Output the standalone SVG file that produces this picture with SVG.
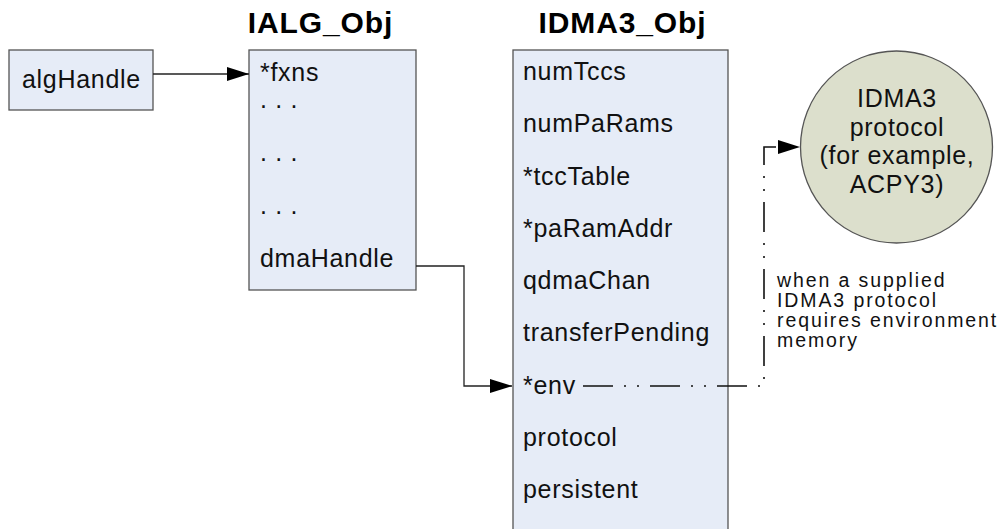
<svg xmlns="http://www.w3.org/2000/svg" width="1006" height="529" viewBox="0 0 1006 529">
<style>
.box{fill:#e6ecf7;stroke:#555;stroke-width:1.3}
.t{font-family:"Liberation Sans",Arial,sans-serif;font-size:25px;letter-spacing:0.7px;fill:#111}
.title{font-family:"Liberation Sans",Arial,sans-serif;font-size:30px;font-weight:bold;letter-spacing:0.9px;fill:#000}
.note{font-family:"Liberation Sans",Arial,sans-serif;font-size:19.5px;letter-spacing:1.9px;fill:#111}
.conn{fill:none;stroke:#222;stroke-width:1.3}
.dd{fill:none;stroke:#111;stroke-width:1.6;stroke-dasharray:30 11 2 11 2 11}
</style>
<defs>
<marker id="ah" markerUnits="userSpaceOnUse" markerWidth="23" markerHeight="15" refX="22" refY="7" orient="auto" viewBox="0 0 23 15">
<path d="M0,0 L22,7 L0,14 z" fill="#000"/>
</marker>
</defs>
<rect width="1006" height="529" fill="#fff"/>

<g id="algHandle">
<rect class="box" x="9" y="50" width="144" height="60"/>
<text class="t" x="22" y="88">algHandle</text>
</g>

<g id="IALG_Obj">
<text class="title" x="320.5" y="33" text-anchor="middle">IALG_Obj</text>
<rect class="box" x="249" y="50" width="167" height="240"/>
<text class="t" x="260" y="81">*fxns</text>
<text class="t" x="260" y="108">. . .</text>
<text class="t" x="260" y="161">. . .</text>
<text class="t" x="260" y="214">. . .</text>
<text class="t" x="260" y="267">dmaHandle</text>
</g>

<g id="IDMA3_Obj">
<text class="title" x="622.5" y="33" text-anchor="middle">IDMA3_Obj</text>
<rect class="box" x="513" y="50" width="215" height="490"/>
<text class="t" x="523" y="80">numTccs</text>
<text class="t" x="523" y="132">numPaRams</text>
<text class="t" x="523" y="184.5">*tccTable</text>
<text class="t" x="523" y="236.5">*paRamAddr</text>
<text class="t" x="523" y="289">qdmaChan</text>
<text class="t" x="523" y="341">transferPending</text>
<text class="t" x="523" y="393.5">*env</text>
<text class="t" x="523" y="445.5">protocol</text>
<text class="t" x="523" y="497.5">persistent</text>
</g>

<g id="protocol">
<circle cx="896.5" cy="147" r="96" fill="#dcdfcc" stroke="#555" stroke-width="1.3"/>
<text class="t" x="897" y="107" text-anchor="middle">IDMA3</text>
<text class="t" x="897" y="135.5" text-anchor="middle">protocol</text>
<text class="t" x="897" y="164" text-anchor="middle">(for example,</text>
<text class="t" x="897" y="192.5" text-anchor="middle">ACPY3)</text>
</g>

<g id="note">
<text class="note" x="777" y="287">when a supplied</text>
<text class="note" x="777" y="307">IDMA3 protocol</text>
<text class="note" x="777" y="327">requires environment</text>
<text class="note" x="777" y="347">memory</text>
</g>

<g id="connectors">
<path class="conn" d="M153,74 L249,74" marker-end="url(#ah)"/>
<path class="conn" d="M416,266 L464,266 L464,386 L512,386" marker-end="url(#ah)"/>
<path class="dd" d="M583,386 L764,386 L764,147 L800,147" marker-end="url(#ah)"/>
</g>
</svg>
